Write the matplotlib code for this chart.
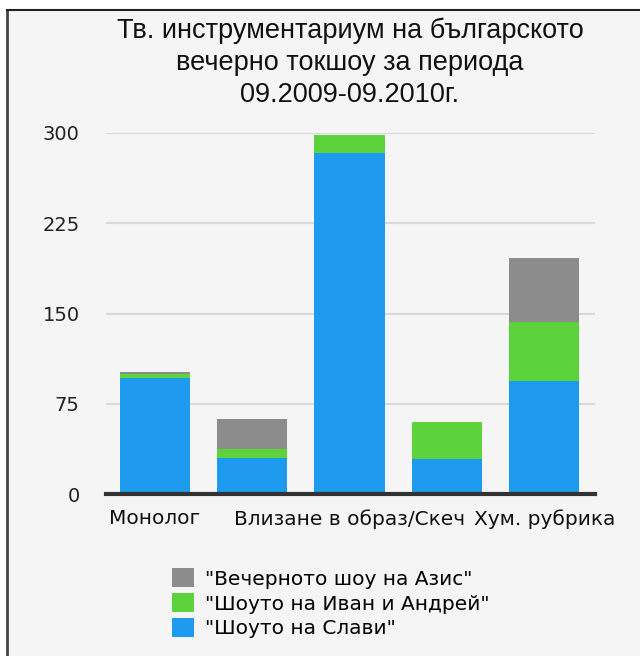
import matplotlib
matplotlib.use('Agg')
import matplotlib.pyplot as plt
from matplotlib.lines import Line2D
from matplotlib.patches import Rectangle
import numpy as np

plt.rcParams['font.family'] = ['DejaVu Sans']

tick_labels = ["Монолог", "", "Влизане в образ/Скеч", "", "Хум. рубрика"]
slavi = [96, 30, 283, 29, 94]
ivan_andrey = [4, 7, 15, 31, 49]
azis = [1, 25, 0, 0, 53]
series_names = ['"Шоуто на Слави"', '"Шоуто на Иван и Андрей"', '"Вечерното шоу на Азис"']
colors = ["#1e9bef", "#5cd23b", "#8c8c8c"]
title = "Тв. инструментариум на българското\nвечерно токшоу за периода\n09.2009-09.2010г."

bg = "#f5f5f5"
fig = plt.figure(figsize=(6.4, 6.56), dpi=100)
fig.patch.set_facecolor("white")

# panel background with a frame on the left and top only
fig.patches.append(Rectangle((7 / 640, 0), 1, 1 - 10 / 656, transform=fig.transFigure,
                             facecolor=bg, edgecolor="none", zorder=-10))
fig.lines.append(Line2D([7 / 640, 7 / 640], [0, 1 - 10 / 656], transform=fig.transFigure,
                        color="#444444", lw=2))
fig.lines.append(Line2D([7 / 640, 1], [1 - 10 / 656, 1 - 10 / 656], transform=fig.transFigure,
                        color="#222222", lw=1.5))

ax = fig.add_axes([106 / 640, 162 / 656, 489 / 640, 361 / 656])
ax.set_facecolor(bg)

x = np.arange(len(tick_labels))
w = 0.72
bottom = np.zeros(len(x))
handles = []
for vals, name, col in zip([slavi, ivan_andrey, azis], series_names, colors):
    b = ax.bar(x, vals, w, bottom=bottom, color=col, label=name, zorder=3)
    bottom += np.array(vals)
    handles.append(b)

ax.set_xlim(-0.5, 4.52)
ax.set_ylim(0, 300)
ax.set_yticks([0, 75, 150, 225, 300])
ax.yaxis.grid(True, color="#d9d9d9", lw=1.5, zorder=0)
ax.set_xticks(x)
ax.set_xticklabels(tick_labels, fontsize=14.5)
ax.tick_params(axis="y", length=0, pad=19, labelsize=14, colors="#222222")
ax.tick_params(axis="x", length=0, pad=11, colors="#111111")
for s in ["top", "right", "left"]:
    ax.spines[s].set_visible(False)
ax.spines["bottom"].set_color("#333333")
ax.spines["bottom"].set_linewidth(3)
ax.spines["bottom"].set_zorder(5)

fig.text(350 / 640, 1 - 18 / 656, title, ha="center", va="top", fontsize=19.5,
         family="Liberation Sans", linespacing=1.3, color="#111111")

fig.legend(handles[::-1], series_names[::-1], loc="upper left",
           bbox_to_anchor=(158 / 640, 1 - 554 / 656), frameon=False, fontsize=14.5,
           handlelength=1.1, handleheight=1.1, handletextpad=0.55, labelspacing=0.22,
           borderpad=0.2)

fig.savefig("out.png", dpi=100, facecolor=fig.get_facecolor())
